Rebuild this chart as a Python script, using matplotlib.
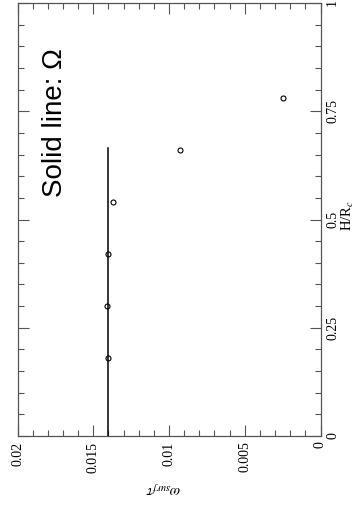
import numpy as np
import matplotlib.pyplot as plt
from matplotlib.ticker import MultipleLocator, FixedLocator, FixedFormatter

# the chart is drawn turned a quarter turn: omega runs right->left, H/R_c bottom->top
h_over_r = [0.18, 0.30, 0.42, 0.54, 0.66, 0.78]
omega_tau = [0.0140, 0.0141, 0.0140, 0.0137, 0.0093, 0.0025]

# solid line (Omega)
line_h = [0.0, 0.665]
line_omega = [0.0140, 0.0140]

omega_ticks = [0.02, 0.015, 0.01, 0.005, 0.0]
omega_labels = ['0.02', '0.015', '0.01', '0.005', '0']
h_ticks = [0, 0.25, 0.5, 0.75, 1]
h_labels = ['0', '0.25', '0.5', '0.75', '1']

plt.rcParams['mathtext.fontset'] = 'stix'
serif = 'Liberation Serif'
frame = '#555555'

fig = plt.figure(figsize=(3.56, 5.05), dpi=100)
ax = fig.add_axes([17.5 / 356, 69 / 505, 303 / 356, 433 / 505])

ax.plot(line_omega, line_h, color='black', lw=1.1)
ax.plot(omega_tau, h_over_r, 'o', ms=3.6, mfc='none', mec='black', mew=0.8)

ax.set_xlim(0.02, 0.0)
ax.set_ylim(0, 1)

ax.xaxis.set_major_locator(FixedLocator(omega_ticks))
ax.xaxis.set_major_formatter(FixedFormatter(omega_labels))
ax.xaxis.set_minor_locator(MultipleLocator(0.001))
ax.yaxis.set_major_locator(FixedLocator(h_ticks))
ax.yaxis.set_major_formatter(FixedFormatter(h_labels))
ax.yaxis.set_minor_locator(MultipleLocator(0.05))

ax.tick_params(which='both', direction='in', top=True, bottom=True, left=True, right=True,
               labelleft=False, labelright=True, color=frame, width=0.8)
ax.tick_params(which='major', length=8, pad=4)
ax.tick_params(which='minor', length=4)
for lab in ax.get_xticklabels():
    lab.set_rotation(90)
    lab.set_fontfamily(serif)
    lab.set_fontsize(10)
for lab in ax.get_yticklabels():
    lab.set_rotation(90)
    lab.set_fontfamily(serif)
    lab.set_fontsize(10)
    lab.set_va('center')

for s in ax.spines.values():
    s.set_color(frame)
    s.set_linewidth(0.9)

ax.text(0.48, -0.12, r'$\omega_{surf}\tau$', transform=ax.transAxes, rotation=180,
        ha='center', va='center', fontsize=11)
ax.text(1.09, 0.51, r'H/R$_c$', transform=ax.transAxes, rotation=90,
        ha='center', va='center', fontsize=10.5, family=serif)
ax.text(0.0175, 0.723, 'Solid line: \u03a9', rotation=90, ha='center', va='center',
        fontsize=20, family='Liberation Sans')

fig.savefig('out.png', dpi=100)
